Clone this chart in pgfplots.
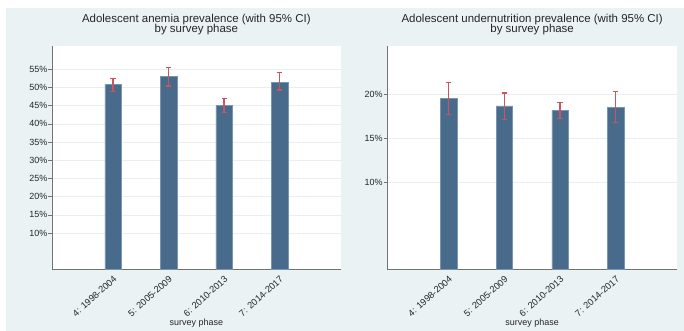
\documentclass[border=0pt]{standalone}
\usepackage{pgfplots}
\pgfplotsset{compat=1.18}
\usepackage{fontspec}
\setmainfont{Liberation Sans}
\definecolor{bg}{RGB}{234,242,243}
\definecolor{barc}{RGB}{72,107,139}
\definecolor{barl}{RGB}{120,148,174}
\definecolor{errc}{RGB}{200,85,98}
\definecolor{gridc}{RGB}{232,239,241}
\pgfplotsset{
  panel/.style={
    scale only axis, height=223.5bp,
    ymin=0,
    xmin=-0.1, xmax=5.1, enlarge x limits=false,
    axis lines*=left,
    axis line style={black!55, line width=0.6bp},
    axis background/.style={fill=white},
    /pgf/number format/assume math mode=true,
    xtick={1,2,3,4},
    xticklabels={4: 1998-2004, 5: 2005-2009, 6: 2010-2013, 7: 2014-2017},
    x tick label style={rotate=42, anchor=north east, inner sep=1.5pt, font=\fontsize{9.3}{10}\selectfont, text=black!85},
    xtick style={draw=none},
    y tick label style={font=\fontsize{9}{10}\selectfont, inner sep=1pt, text=black!85},
    yticklabel={\pgfmathprintnumber{\tick}\%},
    tick align=outside, major tick length=3.5bp,
    ytick style={black!55, line width=0.6bp},
    ymajorgrids, grid style={gridc, line width=0.7bp},
    title style={align=center, font=\fontsize{11.5}{10.8}\selectfont, anchor=south, inner sep=0pt, at={(0.5,1)}, yshift=4.6bp, text=black!85},
    xlabel={survey phase},
    xlabel style={font=\fontsize{9}{10}\selectfont, at={(0.5,0)}, anchor=base, yshift=-55.5bp, text=black!85},
  },
  barstyle/.style={ybar, bar width=16.5bp, bar shift=0pt, fill=barc, draw=barl, line width=0.5bp},
  errstyle/.style={draw=none, mark=none, forget plot,
    error bars/y dir=both, error bars/y explicit,
    error bars/error bar style={draw=errc, line width=1.3bp},
    error bars/error mark options={rotate=90, mark size=2.6bp, draw=errc, line width=1.1bp}},
}
\begin{document}
\begin{tikzpicture}
\useasboundingbox (0,0) rectangle (684bp,331bp);
\fill[bg] (6bp,0) rectangle (684bp,323bp);
\begin{axis}[panel, width=288.7bp, at={(52bp,61.5bp)}, anchor=south west,
  ymax=61.4, ytick={10,15,20,25,30,35,40,45,50,55},
  title={Adolescent anemia prevalence (with 95\% CI)\\by survey phase}]
\addplot[barstyle] coordinates {(1,50.8) (2,53.0) (3,45.0) (4,51.5)};
\addplot[errstyle] coordinates {
 (1,50.8) += (0,1.7) -= (0,1.9)
 (2,53.0) += (0,2.4) -= (0,2.6)
 (3,45.0) += (0,1.95) -= (0,1.8)
 (4,51.5) += (0,2.6) -= (0,2.2)
};
\end{axis}
\begin{axis}[panel, width=289.7bp, at={(387.3bp,61.5bp)}, anchor=south west,
  ymax=25.57, ytick={10,15,20},
  title={Adolescent undernutrition prevalence (with 95\% CI)\\by survey phase}]
\addplot[barstyle] coordinates {(1,19.58) (2,18.73) (3,18.2) (4,18.55)};
\addplot[errstyle] coordinates {
 (1,19.58) += (0,1.83) -= (0,1.83)
 (2,18.73) += (0,1.46) -= (0,1.52)
 (3,18.2) += (0,0.88) -= (0,0.91)
 (4,18.55) += (0,1.83) -= (0,1.76)
};
\end{axis}
\end{tikzpicture}
\end{document}
